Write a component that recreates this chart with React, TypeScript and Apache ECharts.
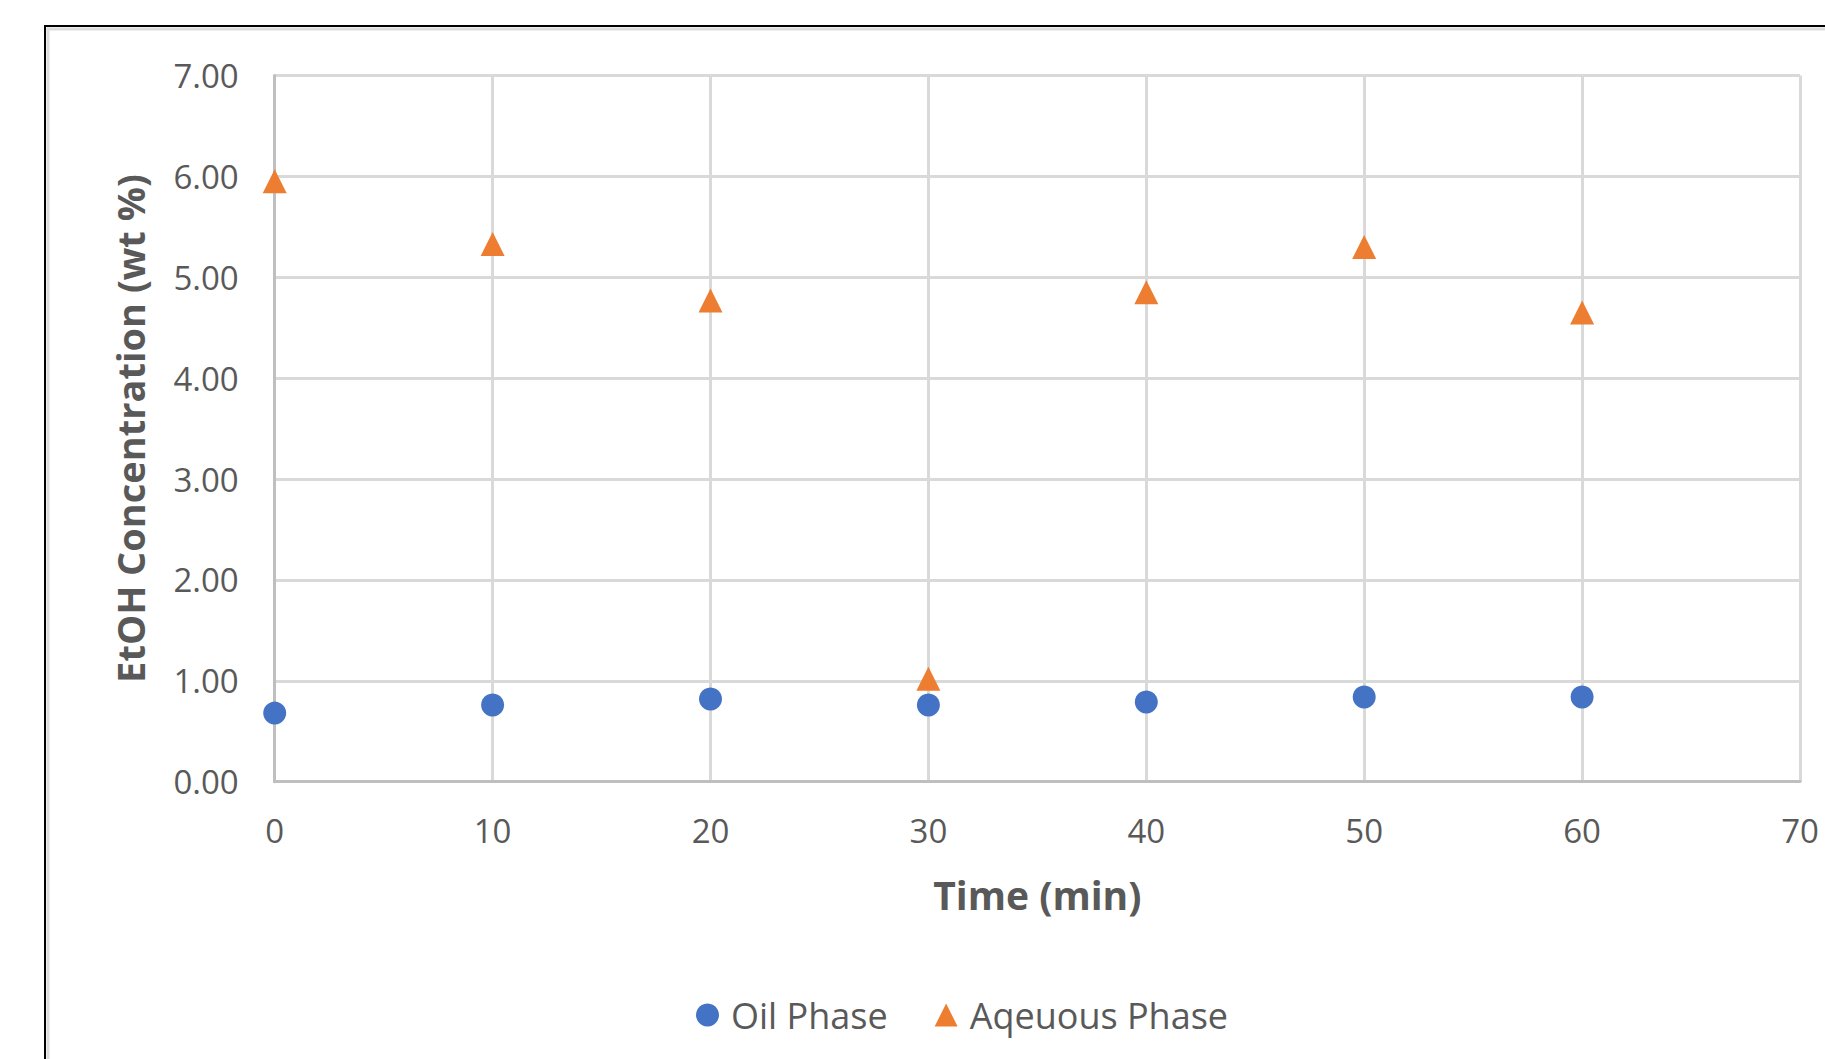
import React, { useEffect, useRef } from "react";
import * as echarts from "echarts";

const timeMin = [0, 10, 20, 30, 40, 50, 60];
const oilPhase = [0.68, 0.76, 0.82, 0.76, 0.79, 0.84, 0.84];
const aqueousPhase = [5.95, 5.33, 4.77, 1.02, 4.85, 5.3, 4.65];
const seriesNames = ["Oil Phase", "Aqeuous Phase"];
const xTitle = "Time (min)";
const yTitle = "EtOH Concentration (wt %)";

const FONT = "'Open Sans', 'Noto Sans', sans-serif";
const TXT = "#595959";

export default function App() {
  const ref = useRef<HTMLDivElement>(null);
  useEffect(() => {
    if (!ref.current) return;
    const chart = echarts.init(ref.current, undefined, { renderer: "svg" });
    chart.setOption({
      animation: false,
      backgroundColor: "#ffffff",
      textStyle: { fontFamily: FONT },
      graphic: [
        {
          type: "rect",
          shape: { x: 48, y: 29, width: 1900, height: 1100 },
          style: { fill: "none", stroke: "#dcdcdc", lineWidth: 3 },
          silent: true,
        },
        {
          type: "rect",
          shape: { x: 45, y: 26, width: 1900, height: 1100 },
          style: { fill: "none", stroke: "#000000", lineWidth: 2 },
          silent: true,
        },
      ],
      grid: { left: 274.7, right: 25, top: 75.4, bottom: 277.3, containLabel: false },
      legend: {
        left: 691,
        top: 992,
        itemWidth: 23,
        itemHeight: 23,
        itemGap: 47,
        textStyle: { color: TXT, fontSize: 36, fontFamily: FONT, padding: [0, 0, 0, 7] },
        data: seriesNames,
      },
      xAxis: {
        type: "value",
        min: 0,
        max: 70,
        interval: 10,
        name: xTitle,
        nameLocation: "middle",
        nameGap: 93,
        nameTextStyle: { color: TXT, fontSize: 39, fontWeight: "bold", fontFamily: FONT },
        axisLine: { show: true, lineStyle: { color: "#bfbfbf", width: 3 } },
        axisTick: { show: false },
        axisLabel: { color: TXT, fontSize: 33, margin: 32, fontFamily: FONT },
        splitLine: { show: true, lineStyle: { color: "#d9d9d9", width: 3 } },
      },
      yAxis: {
        type: "value",
        min: 0,
        max: 7,
        interval: 1,
        name: yTitle,
        nameLocation: "middle",
        nameGap: 126,
        nameTextStyle: { color: TXT, fontSize: 38, fontWeight: "bold", fontFamily: FONT },
        axisLine: { show: true, lineStyle: { color: "#bfbfbf", width: 3 } },
        axisTick: { show: false },
        axisLabel: {
          color: TXT,
          fontSize: 33,
          margin: 36,
          fontFamily: FONT,
          formatter: (v: number) => v.toFixed(2),
        },
        splitLine: { show: true, lineStyle: { color: "#d9d9d9", width: 3 } },
      },
      series: [
        {
          name: seriesNames[0],
          type: "scatter",
          symbol: "circle",
          symbolSize: 23,
          itemStyle: { color: "#4472C4", opacity: 1 },
          data: timeMin.map((t, i) => [t, oilPhase[i]]),
        },
        {
          name: seriesNames[1],
          type: "scatter",
          symbol: "triangle",
          symbolSize: 24,
          itemStyle: { color: "#ED7D31", opacity: 1 },
          data: timeMin.map((t, i) => [t, aqueousPhase[i]]),
        },
      ],
    });
    return () => chart.dispose();
  }, []);
  return (
    <div
      ref={ref}
      style={{ position: "fixed", left: 0, top: 0, width: 1825, height: 1059, background: "#fff" }}
    />
  );
}
